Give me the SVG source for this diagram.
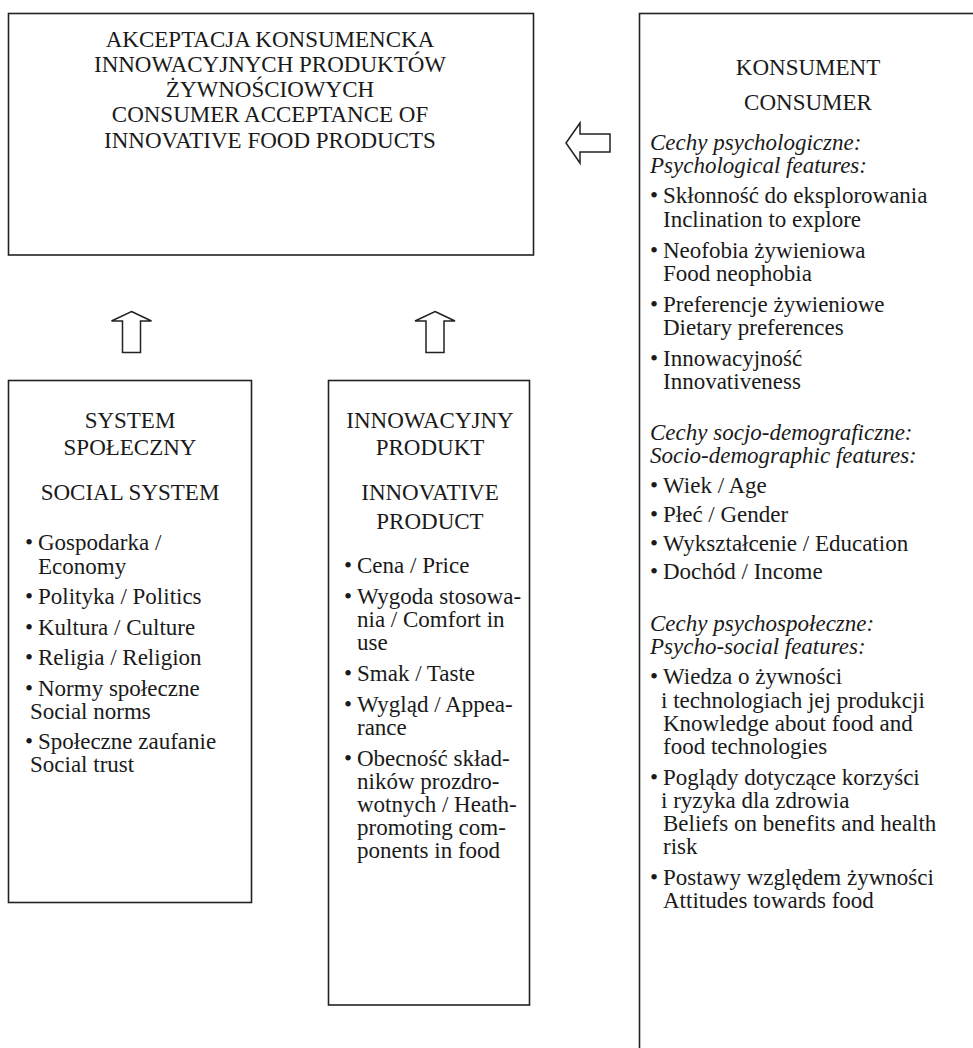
<svg xmlns="http://www.w3.org/2000/svg" width="973" height="1048" viewBox="0 0 973 1048">
<style>
.box{fill:#fff;stroke:#222;stroke-width:1.6}
.arr{fill:#fff;stroke:#222;stroke-width:1.5;stroke-linejoin:miter}
text{font-family:"Liberation Serif","Times New Roman",serif;font-size:23px;fill:#1a1a1a}
.c{text-anchor:middle}
.i{font-style:italic}
</style>
<rect width="973" height="1048" fill="#fff"/>
<g id="acceptance">
<rect class="box" x="8.5" y="13.5" width="525" height="241.5"/>
<text class="c" x="270" y="47">AKCEPTACJA KONSUMENCKA</text>
<text class="c" x="270" y="72">INNOWACYJNYCH PRODUKTÓW</text>
<text class="c" x="270" y="97">ŻYWNOŚCIOWYCH</text>
<text class="c" x="270" y="122">CONSUMER ACCEPTANCE OF</text>
<text class="c" x="270" y="148">INNOVATIVE FOOD PRODUCTS</text>
</g>
<g id="consumer">
<rect class="box" x="639.5" y="13.5" width="400" height="1100"/>
<text class="c" x="808" y="75">KONSUMENT</text>
<text class="c" x="808" y="110">CONSUMER</text>
<text class="i" x="650" y="150">Cechy psychologiczne:</text>
<text class="i" x="650" y="173">Psychological features:</text>
<text x="650" y="203">•</text><text x="663" y="203">Skłonność do eksplorowania</text>
<text x="663" y="227">Inclination to explore</text>
<text x="650" y="258">•</text><text x="663" y="258">Neofobia żywieniowa</text>
<text x="663" y="281">Food neophobia</text>
<text x="650" y="312">•</text><text x="663" y="312">Preferencje żywieniowe</text>
<text x="663" y="335">Dietary preferences</text>
<text x="650" y="366">•</text><text x="663" y="366">Innowacyjność</text>
<text x="663" y="389">Innovativeness</text>
<text class="i" x="650" y="440">Cechy socjo-demograficzne:</text>
<text class="i" x="650" y="463">Socio-demographic features:</text>
<text x="650" y="493">•</text><text x="663" y="493">Wiek / Age</text>
<text x="650" y="522">•</text><text x="663" y="522">Płeć / Gender</text>
<text x="650" y="551">•</text><text x="663" y="551">Wykształcenie / Education</text>
<text x="650" y="579">•</text><text x="663" y="579">Dochód / Income</text>
<text class="i" x="650" y="631">Cechy psychospołeczne:</text>
<text class="i" x="650" y="654">Psycho-social features:</text>
<text x="650" y="684">•</text><text x="663" y="684">Wiedza o żywności</text>
<text x="661" y="708">i technologiach jej produkcji</text>
<text x="663" y="731">Knowledge about food and</text>
<text x="663" y="754">food technologies</text>
<text x="650" y="785">•</text><text x="663" y="785">Poglądy dotyczące korzyści</text>
<text x="661" y="808">i ryzyka dla zdrowia</text>
<text x="663" y="831">Beliefs on benefits and health</text>
<text x="663" y="854">risk</text>
<text x="650" y="885">•</text><text x="663" y="885">Postawy względem żywności</text>
<text x="663" y="908">Attitudes towards food</text>
</g>
<g id="social">
<rect class="box" x="8.5" y="380.5" width="243" height="522"/>
<text class="c" x="130" y="428">SYSTEM</text>
<text class="c" x="130" y="455">SPOŁECZNY</text>
<text class="c" x="130" y="500">SOCIAL SYSTEM</text>
<text x="25" y="550">•</text><text x="38" y="550">Gospodarka /</text>
<text x="38" y="574">Economy</text>
<text x="25" y="604">•</text><text x="38" y="604">Polityka / Politics</text>
<text x="25" y="635">•</text><text x="38" y="635">Kultura / Culture</text>
<text x="25" y="665">•</text><text x="38" y="665">Religia / Religion</text>
<text x="25" y="696">•</text><text x="38" y="696">Normy społeczne</text>
<text x="30" y="719">Social norms</text>
<text x="25" y="749">•</text><text x="38" y="749">Społeczne zaufanie</text>
<text x="30" y="772">Social trust</text>
</g>
<g id="product">
<rect class="box" x="328.5" y="380.5" width="201" height="624.5"/>
<text class="c" x="430" y="428">INNOWACYJNY</text>
<text class="c" x="430" y="455">PRODUKT</text>
<text class="c" x="430" y="500">INNOVATIVE</text>
<text class="c" x="430" y="529">PRODUCT</text>
<text x="344" y="573">•</text><text x="357" y="573">Cena / Price</text>
<text x="344" y="604">•</text><text x="357" y="604">Wygoda stosowa-</text>
<text x="357" y="627">nia / Comfort in</text>
<text x="357" y="650">use</text>
<text x="344" y="681">•</text><text x="357" y="681">Smak / Taste</text>
<text x="344" y="712">•</text><text x="357" y="712">Wygląd / Appea-</text>
<text x="357" y="735">rance</text>
<text x="344" y="766">•</text><text x="357" y="766">Obecność skład-</text>
<text x="357" y="789">ników prozdro-</text>
<text x="357" y="812">wotnych / Heath-</text>
<text x="357" y="835">promoting com-</text>
<text x="357" y="858">ponents in food</text>
</g>
<g id="connectors">
<polygon class="arr" points="131.5,311.5 151.5,321 140.5,321 140.5,352.5 122.5,352.5 122.5,321 111.5,321"/>
<polygon class="arr" points="435,311.5 455,321 444,321 444,352.5 426,352.5 426,321 415,321"/>
<polygon class="arr" points="566,143 580,123 580,134 610,134 610,152 580,152 580,163"/>
</g>
</svg>
